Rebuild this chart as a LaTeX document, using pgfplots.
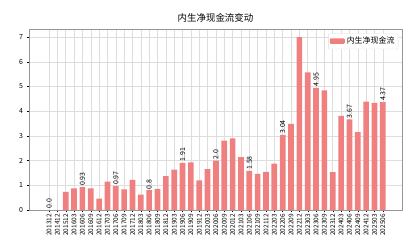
\documentclass[border=0pt]{standalone}
\usepackage{fontspec}
\setmainfont{Noto Sans CJK SC}
\usepackage{pgfplots}
\pgfplotsset{compat=1.18}
\definecolor{barc}{RGB}{240,128,128}
\definecolor{gridc}{RGB}{222,222,222}
\definecolor{framec}{RGB}{150,150,150}
\begin{document}
\begin{tikzpicture}
\useasboundingbox (-29bp,-30bp) rectangle (391bp,210bp);
\begin{axis}[
  scale only axis, width=373bp, height=181bp,
  anchor=south west, at={(0,0)},
  xmin=-2.4, xmax=42.3, ymin=0, ymax=7.33,
  xtick={0,...,40},
  xticklabels={201312,201412,201512,201603,201606,201609,201612,201703,201706,201709,201712,201803,201806,201809,201812,201903,201906,201909,201912,202003,202006,202009,202012,202103,202106,202109,202112,202203,202206,202209,202212,202303,202306,202309,202312,202403,202406,202409,202412,202503,202506},
  xticklabel style={rotate=90, anchor=east, font=\fontsize{6.5}{7}\selectfont, inner sep=1.5pt},
  ytick={0,...,7},
  yticklabel style={font=\fontsize{7}{8}\selectfont},
  /pgf/number format/assume math mode=true,
  xtick pos=bottom, ytick pos=left,
  xmajorgrids, ymajorgrids,
  grid style={gridc, line width=0.5pt},
  axis line style={framec},
  major tick style={black, line width=0.4pt},
  tick align=outside, major tick length=2.5pt,
  title={内生净现金流变动},
  title style={font=\fontsize{9.5}{10}\selectfont, yshift=-3pt},
  legend style={at={(0.99,0.975)}, anchor=north east, font=\fontsize{8}{9}\selectfont, draw=gridc, rounded corners=1pt, inner sep=1.5pt},
  legend cell align=left,
  legend image code/.code={\fill[barc] (0pt,-2.5pt) rectangle (15pt,3pt);},
]
\addplot[ybar, bar width=0.68, fill=barc, draw=none] coordinates {
(0,0.0)(1,0.0)(2,0.73)(3,0.88)(4,0.93)(5,0.88)(6,0.46)(7,1.15)(8,0.97)(9,0.84)(10,1.22)
(11,0.62)(12,0.80)(13,0.86)(14,1.37)(15,1.64)(16,1.91)(17,1.93)(18,1.20)(19,1.66)(20,2.00)
(21,2.81)(22,2.90)(23,2.14)(24,1.58)(25,1.46)(26,1.54)(27,1.88)(28,3.04)(29,3.49)(30,7.00)
(31,5.57)(32,4.95)(33,4.84)(34,1.53)(35,3.81)(36,3.67)(37,3.15)(38,4.39)(39,4.34)(40,4.37)
};
\addlegendentry{内生净现金流}
\addplot[draw=none, mark=none, forget plot, point meta=explicit symbolic,
  nodes near coords, nodes near coords style={rotate=90, anchor=west, font=\fontsize{7}{8}\selectfont, inner sep=1pt}]
coordinates {
(0,0.0)[0.0] (4,0.93)[0.93] (8,0.97)[0.97] (12,0.80)[0.8] (16,1.91)[1.91] (20,2.00)[2.0]
(24,1.58)[1.58] (28,3.04)[3.04] (32,4.95)[4.95] (36,3.67)[3.67] (40,4.37)[4.37]
};
\end{axis}
\end{tikzpicture}
\end{document}
